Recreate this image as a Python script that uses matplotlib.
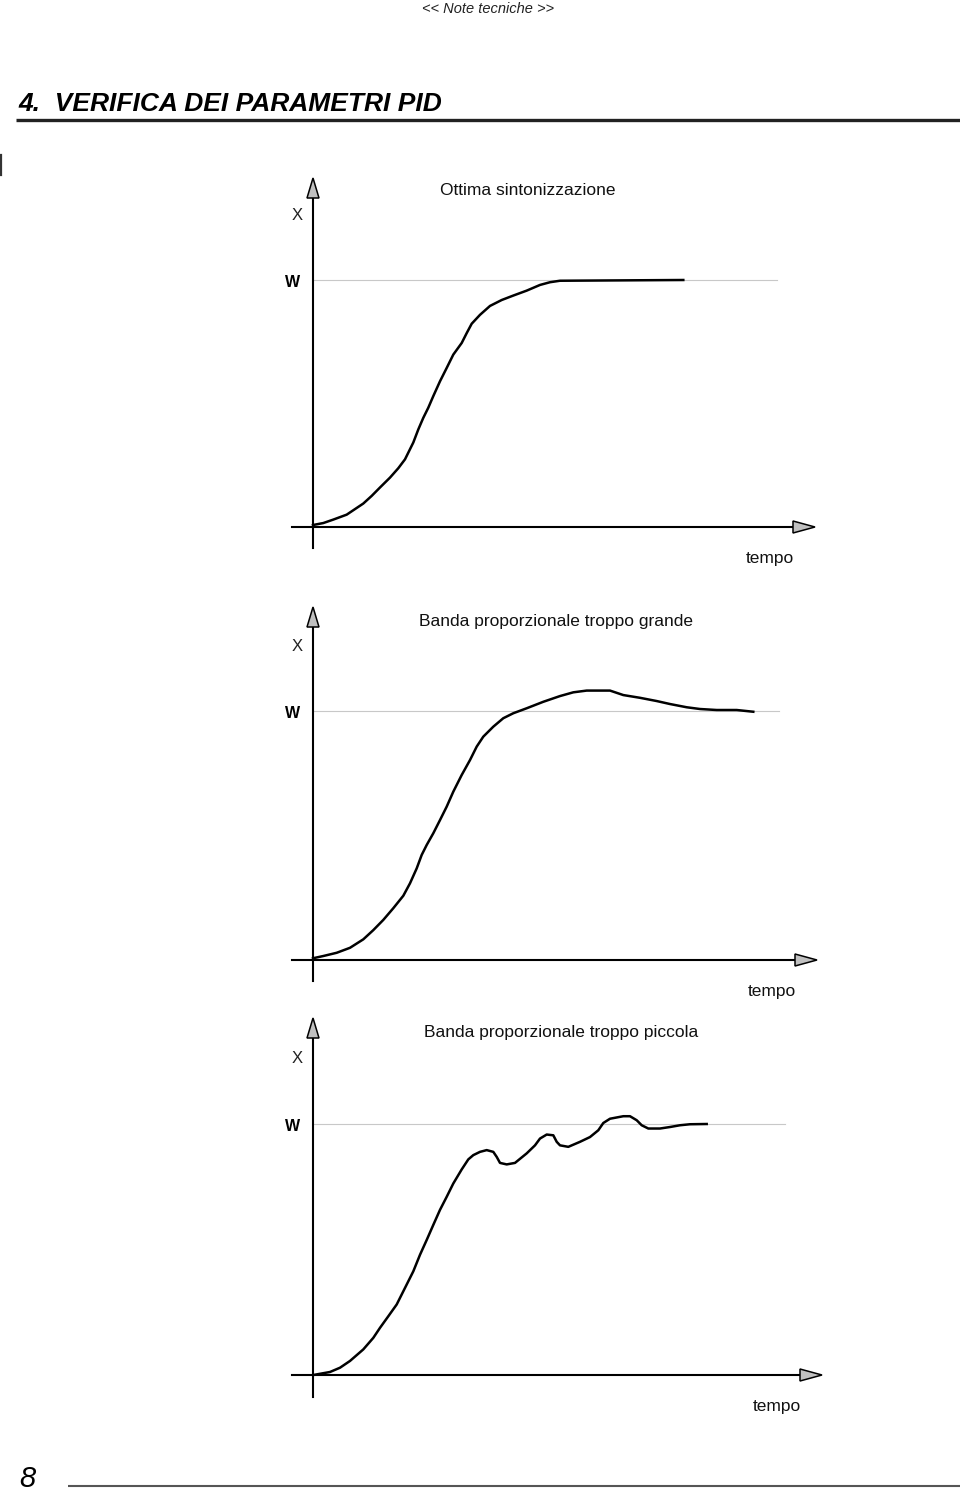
import matplotlib
matplotlib.use("Agg")
from matplotlib import pyplot as plt
from matplotlib.patches import Polygon

plt.rcParams['font.family'] = ['Liberation Sans', 'DejaVu Sans']

# --- data: step responses (time, X as fraction of setpoint W) ---
t_ottima = [0, 1.03, 2.03, 3.37, 5.03, 5.87, 6.7, 7.7, 8.53, 9.2, 10.03, 10.53,
            11.03, 11.53, 12.03, 12.7, 13.37, 14.03, 14.87, 15.37, 15.87, 16.7,
            17.7, 18.87, 20.03, 21.37, 22.7, 23.7, 24.7, 37.03]
x_ottima = [0.008, 0.016, 0.03, 0.05, 0.095, 0.126, 0.16, 0.2, 0.238, 0.274,
            0.342, 0.395, 0.442, 0.483, 0.53, 0.59, 0.644, 0.698, 0.745, 0.785,
            0.823, 0.859, 0.895, 0.919, 0.937, 0.957, 0.98, 0.991, 0.997, 1.0]

t_grande = [0, 1.03, 2.37, 3.7, 5.03, 6.03, 7.03, 8.03, 9.03, 9.7, 10.37, 10.87,
            11.37, 12.03, 12.7, 13.37, 14.03, 14.87, 15.7, 16.37, 17.03, 18.03,
            19.03, 20.03, 21.37, 23.03, 24.7, 26.03, 27.37, 29.7, 31.03, 32.7,
            34.37, 35.7, 37.37, 38.7, 40.37, 42.37, 44.03]
x_grande = [0.007, 0.016, 0.029, 0.049, 0.083, 0.12, 0.161, 0.208, 0.258, 0.308,
            0.368, 0.422, 0.462, 0.509, 0.562, 0.616, 0.676, 0.743, 0.803, 0.857,
            0.897, 0.937, 0.971, 0.991, 1.011, 1.037, 1.06, 1.075, 1.082, 1.082,
            1.064, 1.053, 1.04, 1.028, 1.015, 1.008, 1.004, 1.004, 0.997]

t_piccola = [0.03, 1.7, 2.7, 3.7, 5.03, 6.03, 6.7, 7.53, 8.37, 9.2, 10.03, 10.7,
             11.37, 12.03, 12.7, 13.37, 14.03, 14.87, 15.53, 16.03, 16.7, 17.37,
             18.03, 18.37, 18.7, 19.37, 20.2, 21.37, 22.2, 22.7, 23.37, 24.03,
             24.37, 24.7, 25.53, 26.7, 27.7, 28.53, 29.03, 29.7, 31.03, 31.7,
             32.37, 32.87, 33.53, 34.7, 35.7, 36.7, 37.7, 39.37]
x_piccola = [0, 0.012, 0.029, 0.056, 0.102, 0.148, 0.188, 0.234, 0.281, 0.347,
             0.413, 0.479, 0.538, 0.598, 0.658, 0.71, 0.763, 0.819, 0.859, 0.876,
             0.889, 0.896, 0.889, 0.869, 0.845, 0.839, 0.845, 0.883, 0.915, 0.942,
             0.958, 0.955, 0.929, 0.915, 0.909, 0.929, 0.948, 0.975, 1.004, 1.021,
             1.031, 1.031, 1.015, 0.995, 0.982, 0.982, 0.988, 0.995, 0.999, 1.0]

titles = ["Ottima sintonizzazione",
          "Banda proporzionale troppo grande",
          "Banda proporzionale troppo piccola"]
series = [(t_ottima, x_ottima), (t_grande, x_grande), (t_piccola, x_piccola)]

# --- layout (pixels on a 960x1495 page) ---
W_PX, H_PX = 960, 1495
PX_T = 10.0  # pixels per time unit
layout = [
  dict(ox=313, oy=527, wy=280, top=178, bot=548, left=292, tip=815, wend=777,
       tx=528, ty=195, xy=220, wly=287, tempo=(770, 563)),
  dict(ox=313, oy=960, wy=711, top=607, bot=981, left=292, tip=817, wend=779,
       tx=556, ty=626, xy=651, wly=718, tempo=(772, 996)),
  dict(ox=313, oy=1375, wy=1124, top=1018, bot=1397, left=292, tip=822, wend=785,
       tx=561, ty=1037, xy=1063, wly=1131, tempo=(777, 1411)),
]

fig = plt.figure(figsize=(W_PX/100, H_PX/100), dpi=100)
fig.patch.set_facecolor('white')

# page overlay in pixel coordinates
page = fig.add_axes([0, 0, 1, 1])
page.set_xlim(0, W_PX)
page.set_ylim(H_PX, 0)
page.axis('off')

page.text(488, 13, "<< Note tecniche >>", fontsize=10.5, style='italic',
          ha='center', va='baseline', color='#222222')
page.text(18, 111, "4.  VERIFICA DEI PARAMETRI PID", fontsize=19,
          weight='bold', style='italic', ha='left', va='baseline')
page.plot([16, 960], [120, 120], color='#222222', lw=2.4, solid_capstyle='butt')
page.plot([1, 1], [155, 175], color='#333333', lw=1.6)
page.text(19, 1487, "8", fontsize=21, style='italic', ha='left', va='baseline')
page.plot([68, 960], [1486, 1486], color='#555555', lw=1.5, solid_capstyle='butt')

head_fc = '#c0c0c0'
for lay, title, (tt, xx) in zip(layout, titles, series):
  ox, oy = lay['ox'], lay['oy']
  H = float(oy - lay['wy'])
  l_px, r_px = 280, 832
  t_px, b_px = lay['top'] - 4, lay['bot'] + 4
  ax = fig.add_axes([l_px/W_PX, 1 - b_px/H_PX, (r_px - l_px)/W_PX,
                     (b_px - t_px)/H_PX])
  ax.set_xlim((l_px - ox)/PX_T, (r_px - ox)/PX_T)
  ax.set_ylim((oy - b_px)/H, (oy - t_px)/H)
  ax.axis('off')

  tx = lambda px: (px - ox)/PX_T
  ty = lambda py: (oy - py)/H

  # setpoint line
  ax.plot([0, tx(lay['wend'])], [1, 1], color='#c8c8c8', lw=0.8, zorder=1)

  # axes with arrow heads
  ax.plot([tx(lay['left']), tx(lay['tip'] - 20)], [0, 0], color='black',
          lw=1.5, zorder=2)
  ax.plot([0, 0], [ty(lay['bot']), ty(lay['top'] + 18)], color='black',
          lw=1.5, zorder=2)
  hx = Polygon([[tx(lay['tip']), 0],
                [tx(lay['tip'] - 22), 6/H],
                [tx(lay['tip'] - 22), -6/H]], closed=True,
               facecolor=head_fc, edgecolor='black', lw=1.1, zorder=3)
  hy = Polygon([[0, ty(lay['top'])],
                [-6/PX_T, ty(lay['top'] + 20)],
                [6/PX_T, ty(lay['top'] + 20)]], closed=True,
               facecolor=head_fc, edgecolor='black', lw=1.1, zorder=3)
  ax.add_patch(hx)
  ax.add_patch(hy)

  # response curve
  ax.plot(tt, xx, color='black', lw=1.8, zorder=4, solid_joinstyle='round')

  # labels
  page.text(lay['tx'], lay['ty'], title, fontsize=12.5, ha='center',
            va='baseline', color='#111111')
  page.text(297, lay['xy'], "X", fontsize=12, ha='center', va='baseline',
            color='#222222')
  page.text(293, lay['wly'], "W", fontsize=11.5, weight='bold', ha='center',
            va='baseline')
  page.text(lay['tempo'][0], lay['tempo'][1], "tempo", fontsize=12.5,
            ha='center', va='baseline', color='#111111')

fig.savefig('out.png', dpi=100, facecolor='white')
